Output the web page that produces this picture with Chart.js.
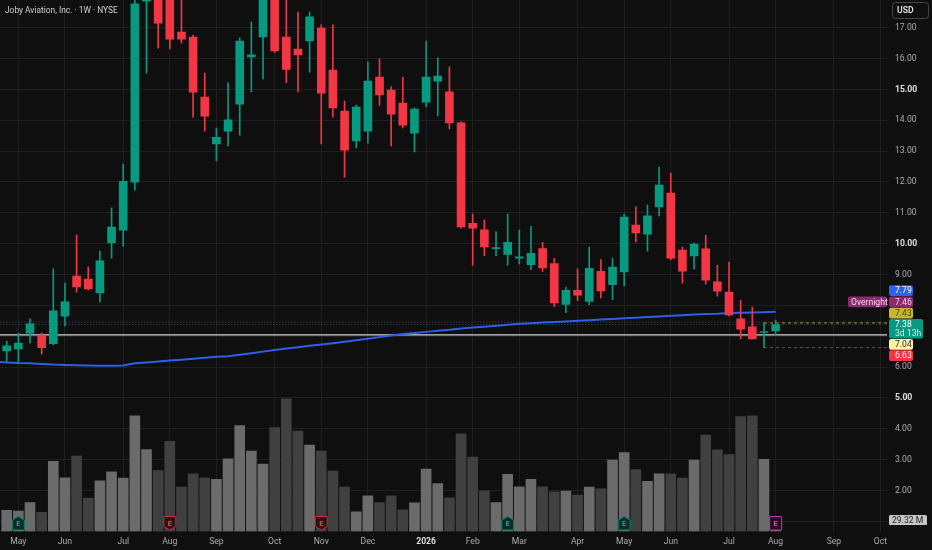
<!DOCTYPE html>
<html><head><meta charset="utf-8">
<script src="https://cdn.jsdelivr.net/npm/chart.js@4.4.1/dist/chart.umd.min.js"></script>
<style>
html,body{margin:0;padding:0;background:#0f0f0f;overflow:hidden;}
#wrap{position:relative;width:932px;height:550px;}
canvas{display:block;}
</style></head><body>
<div id="wrap"><canvas id="c" width="932" height="550"></canvas></div>
<script>
// ---------- data ----------
const chartTitle = 'Joby Aviation, Inc. · 1W · NYSE';
const monthLabels = ['May','Jun','Jul','Aug','Sep','Oct','Nov','Dec','2026','Feb','Mar','Apr','May','Jun','Jul','Aug','Sep','Oct'];
const monthIndex  = [1,5,10,14,18,23,27,31,36,40,44,49,53,57,62,66,71,75];
const priceTicks  = [1,2,3,4,5,6,7,8,9,10,11,12,13,14,15,16,17];
const hiddenPriceTicks = [1,7,8];
const boldPriceTicks = [5,10,15];

const open  = [6.52,6.59,7.10,7.02,6.76,7.65,8.95,8.85,8.40,10.02,10.44,11.99,17.86,18.70,18.20,16.86,16.70,14.75,13.23,13.65,14.52,16.05,16.70,18.40,16.70,16.31,16.57,16.99,15.63,14.30,13.33,13.65,15.40,14.98,14.56,13.58,14.59,15.27,14.92,13.92,10.66,10.45,9.84,9.65,9.53,9.32,9.84,9.35,8.03,8.49,8.13,9.10,8.67,9.08,10.60,10.31,11.19,11.64,9.79,9.60,9.83,8.76,8.43,7.56,7.30,7.12,7.17];
const high  = [6.84,7.10,7.56,7.10,9.18,8.72,10.28,9.24,9.76,11.16,12.58,18.10,19.10,19.00,18.60,18.00,16.76,15.53,13.75,15.21,16.67,17.18,18.80,18.90,18.00,17.51,17.51,17.09,17.09,14.62,14.49,15.89,15.99,15.08,15.40,14.40,16.57,16.02,15.73,13.95,10.97,10.77,10.39,10.96,10.44,10.56,10.04,9.52,8.59,9.18,9.89,9.48,9.53,10.96,11.19,11.25,12.48,12.29,9.89,10.02,10.28,9.30,9.40,8.17,7.94,7.43,7.52];
const low   = [6.16,6.16,6.78,6.42,6.72,7.33,8.43,8.50,8.11,9.53,9.91,11.73,15.53,16.34,16.31,16.50,14.10,13.65,12.68,13.17,13.52,14.92,15.34,16.19,15.22,14.92,15.56,13.23,14.10,12.15,13.10,13.26,14.49,13.17,13.75,12.97,14.43,14.14,13.72,10.50,9.30,9.61,9.61,9.30,9.34,9.16,9.10,7.96,7.76,8.15,8.02,8.24,8.18,8.63,10.05,9.76,10.90,9.47,8.72,9.18,8.69,8.30,7.66,6.91,6.91,6.63,7.04];
const close = [6.69,6.78,7.40,6.63,7.82,8.11,8.60,8.53,9.44,10.54,12.02,17.77,18.75,17.15,16.63,16.63,14.91,14.13,13.45,14.01,16.57,16.12,18.30,16.25,15.65,16.12,17.35,14.88,14.40,13.03,14.43,15.27,14.82,14.20,13.84,14.36,15.40,15.43,13.91,10.54,10.50,9.89,9.87,10.04,9.57,9.69,9.21,8.08,8.49,8.33,9.20,8.47,9.24,10.86,10.35,10.90,11.90,9.53,9.11,9.99,8.82,8.46,7.69,7.23,6.91,7.14,7.38];
// weekly volume, millions
const volume = [54,52,74,49,179,137,192,85,129,152,136,295,209,155,230,113,147,137,133,185,270,205,172,265,338,256,220,205,154,113,50,91,74,91,55,73,159,122,86,249,190,104,74,146,114,133,114,101,103,93,113,109,182,201,158,128,147,147,136,182,246,208,196,293,295,184,29.32];
// moving average, first value belongs to the week before the first candle
const maFirstIndex = -1;
const ma = [6.17,6.15,6.13,6.12,6.10,6.08,6.07,6.06,6.05,6.04,6.04,6.05,6.12,6.15,6.18,6.21,6.24,6.27,6.30,6.33,6.35,6.40,6.45,6.50,6.55,6.60,6.64,6.69,6.73,6.77,6.82,6.87,6.92,6.97,7.02,7.07,7.10,7.14,7.18,7.21,7.25,7.28,7.31,7.34,7.37,7.40,7.42,7.44,7.46,7.48,7.50,7.52,7.54,7.56,7.58,7.60,7.62,7.64,7.66,7.68,7.70,7.72,7.73,7.75,7.76,7.77,7.78,7.79];

const hLineLevel = 7.04;
const overnightLevel = 7.46;
const lastLevel = 7.38;
const rangeFromIndex = 65;
const rangeHigh = 7.43, rangeLow = 6.63;

const tagValues = [7.79, 7.46, 7.43, 7.38, 7.04, 6.63];
const tagSubText = ['', '', '', '3d 13h', '', ''];
const tagSideText = ['', 'Overnight', '', '', '', ''];
const volumeTagValue = 29.32;
const volumeTagText = '29.32 M';
const currencyText = 'USD';

const earningsIndex = [1,14,27,43,53,66];
const earningsKind  = ['beat','miss','miss','beat','beat','next'];

// ---------- styles ----------
const FONT = 'Roboto, "Noto Sans", sans-serif';
const GREEN = '#089981', RED = '#f23645';
const VOL_UP = '#6b6b6b', VOL_DN = '#404040';
const GRID = '#1f1f1f';
const X_MIN = -0.575, X_MAX = 75.56;
const Y_MIN = 0.669, Y_MAX = 17.898;
const VOL_MAX = 1355;

const idx = open.map((_, i) => i);
const isUp = idx.map(i => close[i] >= open[i]);
const candleColors = idx.map(i => isUp[i] ? GREEN : RED);
const volColors = idx.map(i => isUp[i] ? VOL_UP : VOL_DN);

function levelLine(level, fromX, color, dash, width, order) {
  return {
    type: 'line', data: [{x: fromX, y: level}, {x: X_MAX + 1, y: level}],
    borderColor: color, borderWidth: width, borderDash: dash, pointRadius: 0,
    yAxisID: 'y', order: order
  };
}

function rr(ctx, x, y, w, h, r) {
  ctx.beginPath();
  if (ctx.roundRect) ctx.roundRect(x, y, w, h, r); else ctx.rect(x, y, w, h);
}

const overlay = {
  id: 'overlay',
  afterDatasetsDraw(chart) {
    const ctx = chart.ctx, xs = chart.scales.x, a = chart.chartArea;
    ctx.save();
    earningsIndex.forEach((ei, k) => {
      const cx = xs.getPixelForValue(ei);
      const top = a.bottom - 15, bot = a.bottom - 1.5, hw = 6;
      const kind = earningsKind[k];
      let fill, stroke, txt;
      ctx.beginPath();
      if (kind === 'beat') {
        fill = '#0c2b26'; stroke = '#0b8a74'; txt = '#1fae95';
        ctx.moveTo(cx, top); ctx.lineTo(cx + hw, top + 3.5); ctx.lineTo(cx + hw, bot);
        ctx.lineTo(cx - hw, bot); ctx.lineTo(cx - hw, top + 3.5); ctx.closePath();
      } else if (kind === 'miss') {
        fill = '#34100f'; stroke = '#c52d3b'; txt = '#f0495a';
        ctx.moveTo(cx - hw, top); ctx.lineTo(cx + hw, top); ctx.lineTo(cx + hw, bot - 3.5);
        ctx.lineTo(cx, bot); ctx.lineTo(cx - hw, bot - 3.5); ctx.closePath();
      } else {
        fill = '#2a0d22'; stroke = '#c5369a'; txt = '#dc5ab5';
        ctx.rect(cx - hw, top, hw * 2, bot - top);
      }
      ctx.fillStyle = fill; ctx.fill();
      ctx.lineWidth = 1; ctx.strokeStyle = stroke; ctx.stroke();
      ctx.fillStyle = txt; ctx.font = '600 7.5px ' + FONT;
      ctx.textAlign = 'center'; ctx.textBaseline = 'middle';
      ctx.fillText('E', cx, (top + bot) / 2 + 0.5);
    });
    ctx.restore();
  },
  afterDraw(chart) {
    const ctx = chart.ctx, ys = chart.scales.y, yv = chart.scales.yv;
    ctx.save();
    ctx.font = '8.4px ' + FONT; ctx.fillStyle = '#d1d1d1';
    ctx.textAlign = 'left'; ctx.textBaseline = 'middle';
    ctx.fillText(chartTitle, 5, 11);
    rr(ctx, 892.5, 2.5, 36, 16, 3);
    ctx.fillStyle = '#0f0f0f'; ctx.fill();
    ctx.strokeStyle = '#454545'; ctx.lineWidth = 1; ctx.stroke();
    ctx.fillStyle = '#e6e6e6'; ctx.font = '600 8.6px ' + FONT;
    ctx.fillText(currencyText, 897, 11);
    const bg = ['#2d62f0', '#8a2a70', '#c7b536', GREEN, '#fdf2a6', RED];
    const fg = ['#ffffff', '#f4d2ea', '#4e4612', '#ffffff', '#2b2b2b', '#ffdfe3'];
    const H = 10.7, GAP = 0.6, BX = 889;
    const anchor = tagValues.indexOf(lastLevel);
    const boxes = tagValues.map((v, k) => {
      const c = ys.getPixelForValue(v);
      const h = tagSubText[k] ? 19.3 : H;
      return {top: c - H / 2, h: h};
    });
    for (let k = anchor - 1; k >= 0; k--) {
      const lim = boxes[k + 1].top - GAP;
      if (boxes[k].top + boxes[k].h > lim) boxes[k].top = lim - boxes[k].h;
    }
    for (let k = anchor + 1; k < boxes.length; k++) {
      const lim = boxes[k - 1].top + boxes[k - 1].h + GAP;
      if (boxes[k].top < lim) boxes[k].top = lim;
    }
    ctx.font = '8.6px ' + FONT;
    tagValues.forEach((v, k) => {
      const b = boxes[k];
      const w = tagSubText[k] ? 34 : 24;
      rr(ctx, BX, b.top, w, b.h, 2); ctx.fillStyle = bg[k]; ctx.fill();
      ctx.fillStyle = fg[k];
      ctx.fillText(v.toFixed(2), 895, b.top + H / 2 + 0.5);
      if (tagSubText[k]) {
        ctx.fillStyle = '#cfeee8';
        ctx.fillText(tagSubText[k], 895, b.top + H / 2 + 9);
      }
      if (tagSideText[k]) {
        rr(ctx, 848, b.top, 39, b.h, 2); ctx.fillStyle = bg[k]; ctx.fill();
        ctx.fillStyle = fg[k];
        ctx.fillText(tagSideText[k], 851, b.top + H / 2 + 0.5);
      }
    });
    const vc = yv.getPixelForValue(volumeTagValue);
    rr(ctx, 889, vc - 5, 38, 10, 1.5); ctx.fillStyle = '#c6c6c6'; ctx.fill();
    ctx.fillStyle = '#1f1f1f';
    ctx.fillText(volumeTagText, 892, vc + 0.5);
    ctx.restore();
  }
};

Chart.defaults.font.family = FONT;
Chart.defaults.font.size = 8.6;
Chart.defaults.color = '#aeaeae';

function tickVal(c) { return (c && c.tick) ? c.tick.value : null; }
function tickLab(c) { return (c && typeof c.index === 'number') ? monthLabels[c.index] : null; }
function noPad(s) { s.paddingTop = 0; s.paddingBottom = 0; s.paddingLeft = 0; s.paddingRight = 0; }

new Chart(document.getElementById('c'), {
  type: 'bar',
  data: {
    datasets: [
      { type: 'bar', label: 'Bodies', data: idx.map(i => ({x: i, y: [open[i], close[i]]})),
        backgroundColor: candleColors, borderWidth: 0, barThickness: 8, minBarLength: 1,
        grouped: false, yAxisID: 'y', order: 1 },
      { type: 'bar', label: 'Wicks', data: idx.map(i => ({x: i, y: [low[i], high[i]]})),
        backgroundColor: candleColors, borderWidth: 0, barThickness: 1,
        grouped: false, yAxisID: 'y', order: 2 },
      { type: 'line', label: 'MA', data: ma.map((v, k) => ({x: k + maFirstIndex, y: v})),
        borderColor: '#2d5fe8', borderWidth: 2, pointRadius: 0, tension: 0, yAxisID: 'y', order: 4 },
      levelLine(rangeHigh, rangeFromIndex, '#a99b2c', [3, 3], 1, 5),
      levelLine(rangeLow, rangeFromIndex, '#a8303b', [3, 3], 1, 5),
      levelLine(overnightLevel, X_MIN - 1, 'rgba(176,56,138,0.75)', [1, 2], 1, 6),
      levelLine(lastLevel, X_MIN - 1, 'rgba(8,153,129,0.6)', [1, 2], 1, 6),
      levelLine(hLineLevel, X_MIN - 1, '#d4d4d4', [], 1.3, 6),
      { type: 'bar', label: 'Volume', data: idx.map(i => ({x: i, y: volume[i]})),
        backgroundColor: volColors, borderWidth: 0, barThickness: 10,
        grouped: false, yAxisID: 'yv', order: 20 }
    ]
  },
  options: {
    responsive: false,
    animation: false,
    layout: { padding: 0 },
    plugins: { legend: { display: false }, tooltip: { enabled: false }, title: { display: false } },
    scales: {
      x: {
        type: 'linear', min: X_MIN, max: X_MAX, offset: false, position: 'bottom',
        grid: { color: GRID, drawTicks: false, offset: false },
        border: { display: false },
        afterBuildTicks: s => { s.ticks = monthIndex.map(v => ({value: v})); },
        afterFit: s => { s.height = 18.5; noPad(s); },
        ticks: {
          autoSkip: false, maxRotation: 0, padding: 5.5,
          callback: (v, i) => monthLabels[i],
          color: c => (tickLab(c) === '2026' ? '#dedede' : '#aeaeae'),
          font: c => (tickLab(c) === '2026' ? {family: FONT, size: 8.6, weight: 'bold'} : {family: FONT, size: 8.6, weight: 'normal'})
        }
      },
      y: {
        type: 'linear', position: 'right', min: Y_MIN, max: Y_MAX,
        grid: { color: GRID, drawTicks: false },
        border: { display: false },
        afterBuildTicks: s => { s.ticks = priceTicks.map(v => ({value: v})); },
        afterFit: s => { s.width = 45; noPad(s); },
        ticks: {
          padding: 8, crossAlign: 'near',
          callback: v => hiddenPriceTicks.includes(v) ? '' : v.toFixed(2),
          color: c => boldPriceTicks.includes(tickVal(c)) ? '#e2e2e2' : '#aeaeae',
          font: c => boldPriceTicks.includes(tickVal(c)) ? {family: FONT, size: 8.6, weight: 'bold'} : {family: FONT, size: 8.6, weight: 'normal'}
        }
      },
      yv: {
        type: 'linear', display: false, min: 0, max: VOL_MAX
      }
    }
  },
  plugins: [overlay]
});
</script>
</body></html>
